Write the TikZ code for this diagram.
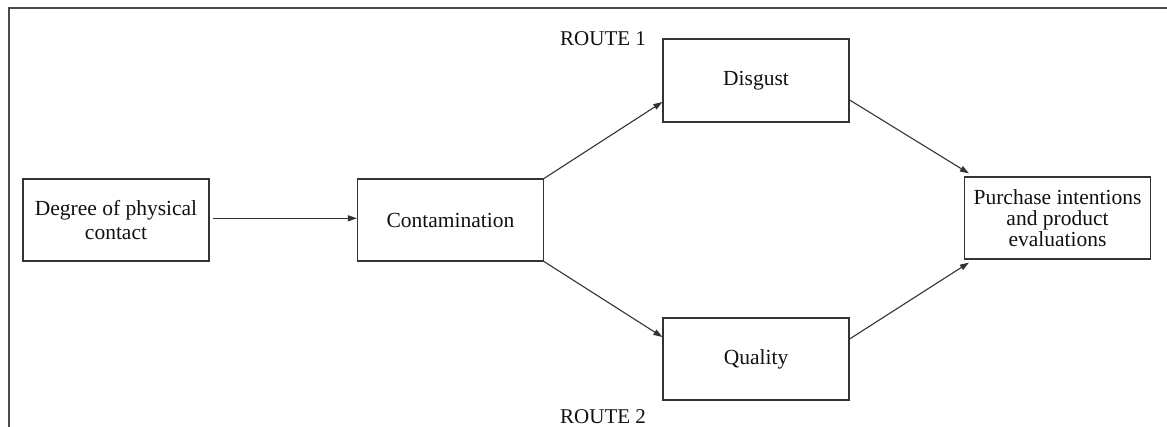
\documentclass[tikz,border=0pt]{standalone}
\usepackage{fontspec}
\setmainfont{Liberation Serif}
\usetikzlibrary{arrows.meta}

\definecolor{boxline}{HTML}{333333}
\definecolor{frameline}{HTML}{4A4A4A}
\definecolor{ink}{HTML}{111111}

\tikzset{
  stagebox/.style={draw=boxline, line width=1.2pt, rectangle, inner sep=0pt,
    minimum width=186pt, minimum height=82pt, align=center, text=ink,
    font=\fontsize{21.5}{24}\selectfont},
  routelabel/.style={anchor=base west, inner sep=0pt, text=ink,
    font=\fontsize{21}{24}\selectfont},
  link/.style={draw=boxline, line width=1.1pt,
    -{Triangle[length=9pt,width=6pt]}},
}

\begin{document}
\begin{tikzpicture}[x=1pt, y=-1pt]
  \useasboundingbox (0,0) rectangle (1167,427);
  \fill[white] (0,0) rectangle (1167,427);

  % page frame, only its top and left edges fall inside the picture
  \begin{scope}
    \clip (0,0) rectangle (1167,427);
    \draw[frameline, line width=2pt] (9,8) rectangle (1180,440);
  \end{scope}

  % stages of the model
  \node[stagebox] (deg)   at (116,220)    {Degree of physical\\contact};
  \node[stagebox] (cont)  at (450.5,220)  {Contamination};
  \node[stagebox, minimum height=83pt] (disg) at (756,80.5) {Disgust};
  \node[stagebox] (qual)  at (756,359)    {Quality};
  \node[stagebox, font=\fontsize{21.5}{21}\selectfont] (purch) at (1057.5,218)
    {Purchase intentions\\and product\\evaluations};

  % route labels
  \node[routelabel] (r1) at (560,45.7) {ROUTE 1};
  \node[routelabel] (r2) at (560,423)  {ROUTE 2};

  % connectors
  \draw[link] ([xshift=3pt,yshift=1.7pt]deg.east) -- ([yshift=1.7pt]cont.west);
  \draw[link] (cont.north east) -- ([yshift=-21.5pt]disg.west);
  \draw[link] (cont.south east) -- ([yshift=22pt]qual.west);
  \draw[link] ([yshift=-19.5pt]disg.east) -- ([xshift=5pt,yshift=3pt]purch.north west);
  \draw[link] ([yshift=20pt]qual.east) -- ([xshift=5pt,yshift=-3pt]purch.south west);
\end{tikzpicture}
\end{document}
